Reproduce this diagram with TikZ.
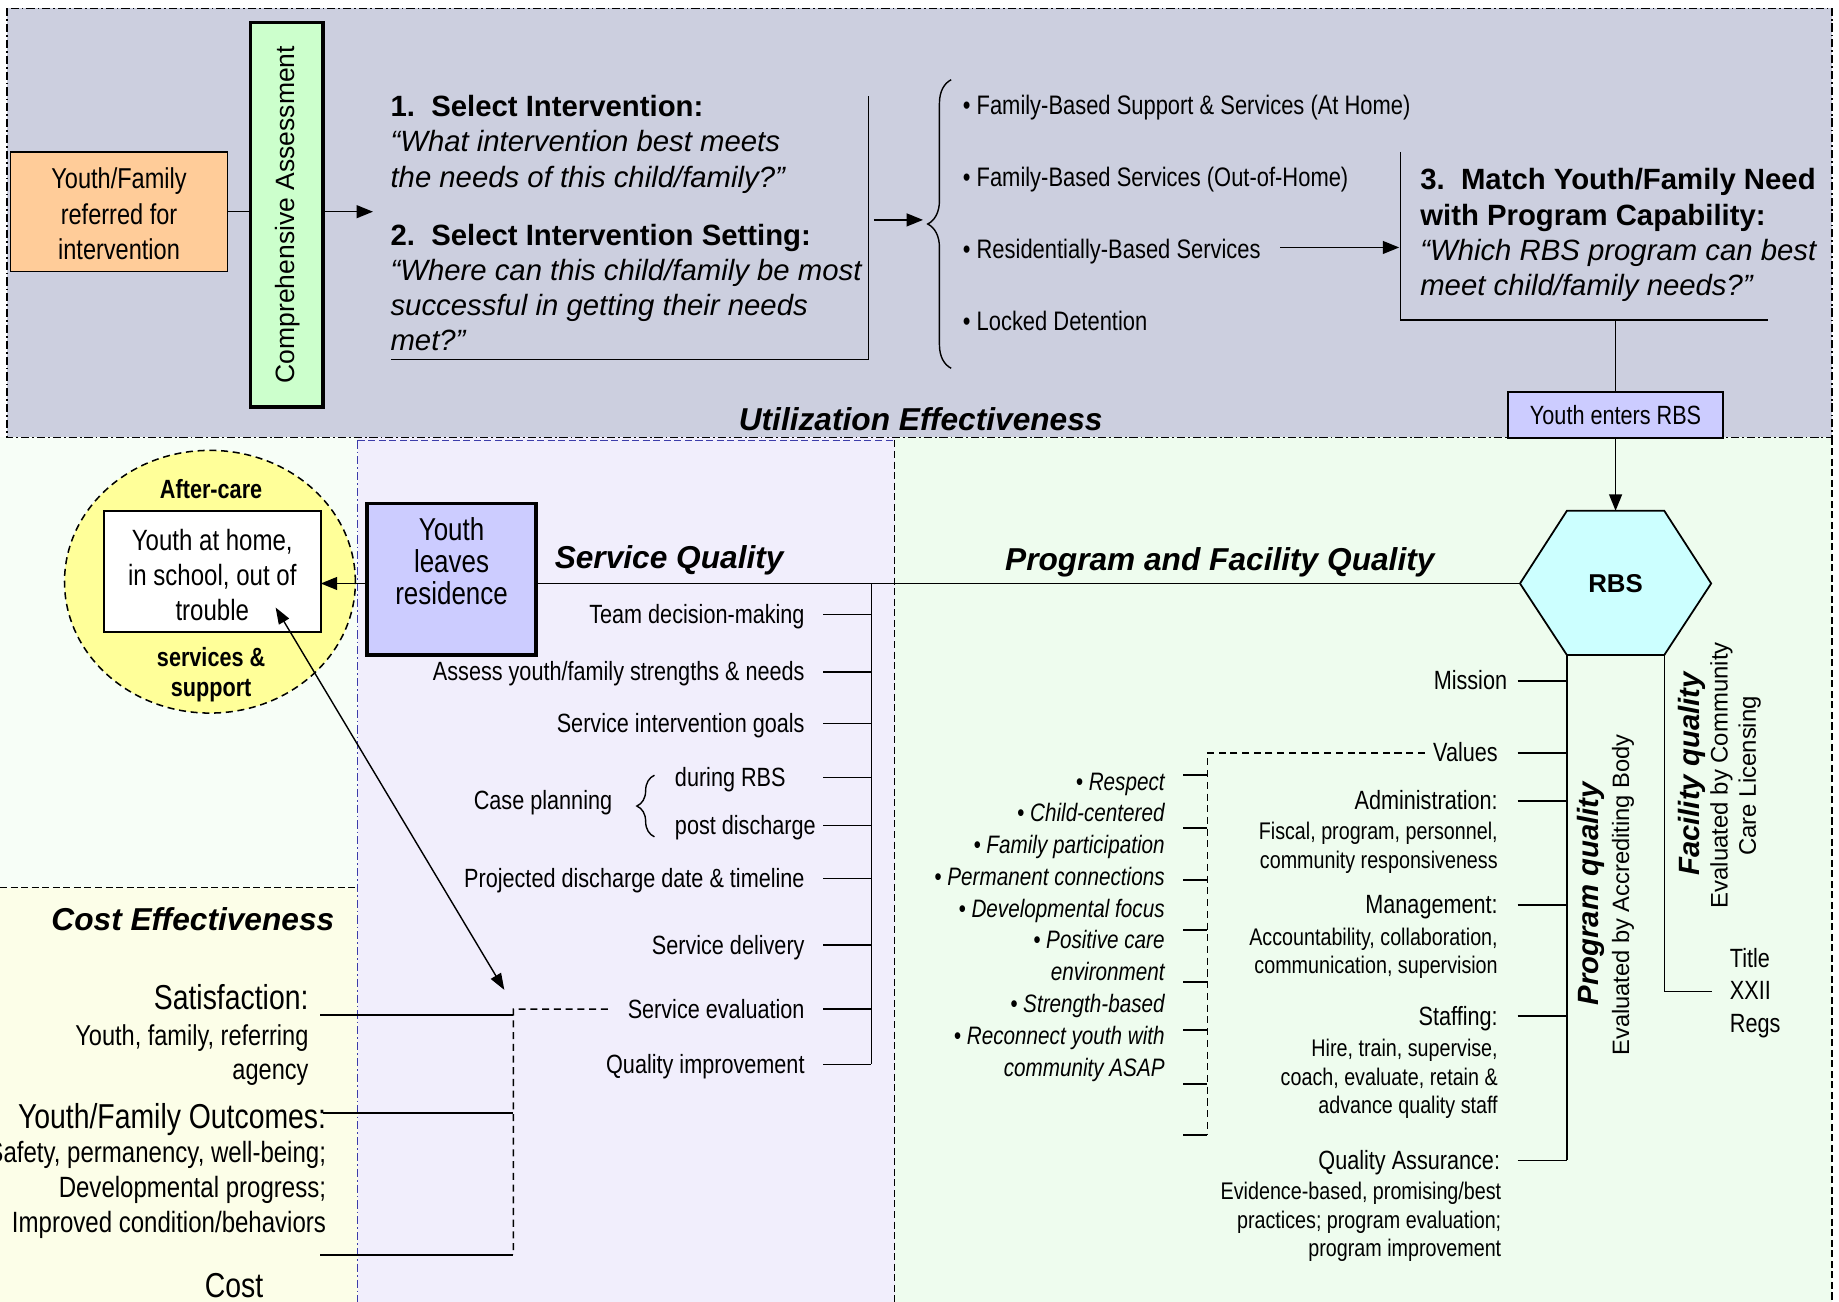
\documentclass[tikz,border=0pt]{standalone}
\usepackage{fontspec}
\setmainfont{Liberation Sans}
\newfontfamily\narrowsans{Liberation Sans}[FakeStretch=0.82]
\usetikzlibrary{arrows.meta,decorations.pathreplacing,shapes.geometric,calc}

\newcommand\nsz[2]{\narrowsans\fontsize{#1}{#2}\selectfont}
\newcommand\wsz[2]{\normalfont\fontsize{#1}{#2}\selectfont}

\definecolor{bandTop}{RGB}{204,207,223}
\definecolor{paneLeft}{RGB}{247,254,247}
\definecolor{paneCost}{RGB}{252,254,232}
\definecolor{paneService}{RGB}{241,238,252}
\definecolor{paneProgram}{RGB}{238,252,238}
\definecolor{boxOrange}{RGB}{255,204,153}
\definecolor{boxGreen}{RGB}{204,255,204}
\definecolor{boxBlue}{RGB}{204,204,255}
\definecolor{boxCyan}{RGB}{204,255,255}
\definecolor{ovalYellow}{RGB}{255,255,153}
\definecolor{edgeBlue}{RGB}{60,60,170}

\begin{document}
\begin{tikzpicture}[x=1pt,y=-1pt,
  every node/.style={inner sep=0pt,outer sep=0pt},
  conn/.style={line width=1.3pt},
  arr/.style={line width=1.3pt,-{Triangle[length=14pt,width=11pt]}},
  twoarr/.style={line width=1.2pt,{Triangle[length=14pt,width=10pt]}-{Triangle[length=14pt,width=10pt]}},
  dashjoin/.style={line width=1.3pt,dash pattern=on 6pt off 4pt},
  box/.style={draw,line width=1.5pt},
  heavybox/.style={draw,line width=2.8pt},
  lbl/.style={font=\nsz{22.5}{27},text height=16.2pt,text depth=1.1pt},
  det/.style={font=\nsz{20.5}{24.2},align=right},
  question/.style={font=\wsz{25}{30},align=left},
  heading/.style={font=\wsz{27}{32}\bfseries\itshape},
  paneDD/.style={line width=1pt,dash pattern=on 7pt off 2.5pt on 1.5pt off 2.5pt},
  paneDash/.style={line width=1pt,dash pattern=on 6pt off 3pt},
]
\useasboundingbox (0,0) rectangle (1568,1110.1);
\clip (0,0) rectangle (1568,1110.1);

% ---------- panes ----------
\fill[paneLeft] (0,373) rectangle (305,757);
\fill[paneCost] (0,757) rectangle (305,1111);
\fill[paneService] (305,373) rectangle (763,1111);
\fill[paneProgram] (763,373) rectangle (1562,1111);
\fill[bandTop] (6,7) rectangle (1562,373);
\draw[paneDD] (6,7) rectangle (1562,373);
\draw[paneDash,edgeBlue] (305,375.5) -- (763,375.5);
\draw[paneDD,edgeBlue] (305,375.5) -- (305,1111);
\draw[paneDash] (763,375.5) -- (763,1111);
\draw[paneDash] (1562,373) -- (1562,1111);
\draw[paneDash] (0,757) -- (305,757);

% ---------- referral and assessment ----------
% (multi-line nodes are placed by the baseline of their last line)
\node[box,fill=boxOrange,minimum width=185pt,minimum height=102pt] (referred) at (101.5,180.5) {};
\node[font=\nsz{24.5}{30},align=center,anchor=base] (referredtxt) at (101.5,221) {Youth/Family\\referred for\\intervention};
\node[heavybox,fill=boxGreen,minimum width=62pt,minimum height=328pt] (assess) at (244.5,183) {};
\node[rotate=90,anchor=base,font=\wsz{22.6}{27}] (assesstxt) at (250.8,183) {Comprehensive Assessment};
\draw[conn] (referred.east) -- (referred.east -| assess.west);
\coordinate (selIn) at (318,180.5);
\draw[arr] (assess.east |- referred.east) -- (selIn);

% ---------- steps 1 and 2 ----------
\node[question,anchor=base west] (step1) at (333,159.5)
  {\textbf{1.\ \ Select Intervention:}\\\textit{“What intervention best meets}\\\textit{the needs of this child/family?”}};
\node[question,anchor=base west] (step2) at (333,299)
  {\textbf{2.\ \ Select Intervention Setting:}\\\textit{“Where can this child/family be most}\\\textit{successful in getting their needs}\\\textit{met?”}};
\draw[conn] (740.5,82) -- (740.5,306.5) -- (333,306.5);
\coordinate (stepsOut) at (745,187.5);
\coordinate (braceTip) at (787,187.5);
\draw[arr] (stepsOut) -- (braceTip);
\draw[line width=1.2pt,decorate,decoration={brace,amplitude=20pt}] (811,314) -- (811,68);

% ---------- settings ----------
\node[font=\nsz{22.8}{27},anchor=base west] (homeSvc) at (821,98) {• Family-Based Support \& Services (At Home)};
\node[font=\nsz{22.8}{27},anchor=base west] (outSvc) at (821,159) {• Family-Based Services (Out-of-Home)};
\node[font=\nsz{22.8}{27},anchor=base west] (resSvc) at (821,220) {• Residentially-Based Services};
\node[font=\nsz{22.8}{27},anchor=base west] (locked) at (821,281.5) {• Locked Detention};
\coordinate (resOut) at (1091.5,211);
\coordinate (matchIn) at (1193,211);
\draw[arr] (resOut) -- (matchIn);

% ---------- step 3 ----------
\draw[conn] (1194,129.5) -- (1194,273) -- (1507.5,273);
\node[question,anchor=base west] (step3) at (1211,252)
  {\textbf{3.\ \ Match Youth/Family Need}\\\textbf{with Program Capability:}\\\textit{“Which RBS program can best}\\\textit{meet child/family needs?”}};
\coordinate (matchBar) at (1377.5,273);
\node[box,fill=boxBlue,minimum width=183pt,minimum height=39.5pt,font=\nsz{22.5}{27}] (enters) at (1377.5,354) {Youth enters RBS};
\draw[conn] (matchBar) -- (enters.north);

\node[heading,anchor=base] (utilization) at (785,367) {Utilization Effectiveness};

% ---------- RBS hexagon ----------
\coordinate (hexTL) at (1336,435.5);
\coordinate (hexTR) at (1419,435.5);
\coordinate (hexR) at (1459,497.5);
\coordinate (hexBR) at (1419,558.5);
\coordinate (hexBL) at (1336,558.5);
\coordinate (hexL) at (1296,497.5);
\coordinate (hexTop) at (1377.5,435.5);
\filldraw[fill=boxCyan,line width=1.5pt] (hexTL) -- (hexTR) -- (hexR) -- (hexBR) -- (hexBL) -- (hexL) -- cycle;
\node[font=\wsz{22}{26}\bfseries] (rbs) at (1377.5,498) {RBS};
\draw[arr] (enters.south) -- (hexTop);

% ---------- leaving residence ----------
\node[heavybox,fill=boxBlue,minimum width=144pt,minimum height=129.5pt] (leaves) at (385,493.75) {};
\node[font=\nsz{27}{27},align=center,anchor=base] (leavestxt) at (385,515) {Youth\\leaves\\residence};
\draw[conn] (hexL) -- (hexL -| leaves.east);

\node[heading,anchor=base west] (pfq) at (857,486) {Program and Facility Quality};
\node[heading,anchor=base west] (sq) at (473,485) {Service Quality};

% ---------- after-care ----------
\node[ellipse,draw,fill=ovalYellow,line width=1.3pt,dash pattern=on 6pt off 4pt,minimum width=248pt,minimum height=224pt] (aftercare) at (179,496) {};
\node[box,fill=white,minimum width=185pt,minimum height=103pt] (home) at (181,487.5) {};
\node[font=\nsz{25}{30},align=center,anchor=base] (hometxt) at (181,529) {Youth at home,\\in school, out of\\trouble};
\node[font=\nsz{22.5}{26}\bfseries,anchor=base] (aftertxt) at (180,425) {After-care};
\node[font=\nsz{22.5}{25.5}\bfseries,align=center,anchor=base] (supporttxt) at (180,594.1) {services \&\\support};
\draw[arr] (leaves.west |- hexL) -- (home.east |- hexL);

% ---------- service quality list ----------
\coordinate (svcTop) at (743,497.5);
\coordinate (svcTick) at (702,0);
\node[lbl,anchor=base east] (team) at (686,531.5) {Team decision-making};
\node[lbl,anchor=base east] (assessSN) at (686,580.5) {Assess youth/family strengths \& needs};
\node[lbl,anchor=base east] (goals) at (686,624.5) {Service intervention goals};
\node[lbl,anchor=base west] (during) at (575.5,670.5) {during RBS};
\node[lbl,anchor=base west] (post) at (575.5,711.5) {post discharge};
\node[lbl,anchor=base west] (caseplan) at (404,690.6) {Case planning};
\node[lbl,anchor=base east] (projected) at (686,756.5) {Projected discharge date \& timeline};
\node[lbl,anchor=base east] (delivery) at (686,813.5) {Service delivery};
\node[lbl,anchor=base east] (evaluation) at (686,868) {Service evaluation};
\node[lbl,anchor=base east] (improve) at (686,915) {Quality improvement};
\draw[line width=1.2pt,decorate,decoration={brace,amplitude=15pt}] (558,713.5) -- (558,661);
\draw[conn] (svcTop) -- (improve.east -| svcTop);
\foreach \item in {team,assessSN,goals,during,post,projected,delivery,evaluation,improve}
  \draw[conn] (\item.east -| svcTick) -- (\item.east -| svcTop);

% ---------- cost effectiveness ----------
\coordinate (costJoinTop) at (437.7,860.5);
\coordinate (costJoinBot) at (437.7,1070);
\coordinate (satLine) at (273,865.5);
\coordinate (outLine) at (275,949);
\coordinate (costLine) at (273,1070);
\draw[dashjoin] ([xshift=-17pt]evaluation.west) -- (costJoinTop) -- (costJoinBot);
\draw[conn] (satLine) -- (satLine -| costJoinTop);
\draw[conn] (outLine) -- (outLine -| costJoinTop);
\draw[conn] (costLine) -- (costJoinBot);
\coordinate (homeTip) at (235,518);
\coordinate (evalTip) at (430,844);
\draw[twoarr] (homeTip) -- (evalTip);

\node[heading,anchor=base east] (costeff) at (285,793) {Cost Effectiveness};
\node[font=\nsz{29.5}{32},anchor=base east] (satis) at (263,861) {Satisfaction:};
\node[font=\nsz{24.5}{29.5},align=right,anchor=base east] (satisdet) at (263,920.5) {Youth, family, referring\\agency};
\node[font=\nsz{29.5}{32},anchor=base east] (outcomes) at (278,962) {Youth/Family Outcomes:};
\node[font=\nsz{25}{30},align=right,anchor=base east] (outcomesdet) at (278,1051) {Safety, permanency, well-being;\\Developmental progress;\\Improved condition/behaviors};
\node[font=\nsz{29.5}{32},anchor=base] (cost) at (199.5,1106) {Cost};

% ---------- program quality ----------
\coordinate (progTick) at (1294,0);
\node[lbl,anchor=base east] (mission) at (1285,588.3) {Mission};
\node[lbl,anchor=base east] (values) at (1277,649.6) {Values};
\node[lbl,anchor=base east] (admin) at (1277,690.6) {Administration:};
\node[det,anchor=base east] (admindet) at (1277,740.2) {Fiscal, program, personnel,\\community responsiveness};
\node[lbl,anchor=base east] (mgmt) at (1277,779) {Management:};
\node[det,anchor=base east] (mgmtdet) at (1277,830) {Accountability, collaboration,\\communication, supervision};
\node[lbl,anchor=base east] (staff) at (1277,874) {Staffing:};
\node[det,anchor=base east] (staffdet) at (1277,949.4) {Hire, train, supervise,\\coach, evaluate, retain \&\\advance quality staff};
\node[lbl,anchor=base east] (qa) at (1279,997) {Quality Assurance:};
\node[det,anchor=base east] (qadet) at (1280,1071.4) {Evidence-based, promising/best\\practices; program evaluation;\\program improvement};
\draw[conn] (hexBL) -- (qa.east -| hexBL);
\foreach \item in {mission,values,admin,mgmt,staff,qa}
  \draw[conn] (\item.east -| progTick) -- (\item.east -| hexBL);

% values detail
\coordinate (valJoin) at (1029.5,641);
\coordinate (valEnd) at (1029.5,968);
\draw[dashjoin] ([xshift=-7pt]values.west) -- (values.west -| valJoin) -- (valEnd);
\foreach \ty in {661,706,750,793,837,878,924,968}
  \draw[line width=1.6pt] (1009,\ty) -- (1029.5,\ty);
\node[font=\nsz{21.5}{27.1}\itshape,align=right,anchor=base east] (valitems) at (993,917.5)
  {• Respect\\• Child-centered\\• Family participation\\• Permanent connections\\• Developmental focus\\• Positive care\\environment\\• Strength-based\\• Reconnect youth with\\community ASAP};

% ---------- facility quality ----------
\coordinate (titleEnd) at (1460,845.5);
\draw[conn] (hexBR) -- (hexBR |- titleEnd) -- (titleEnd);
\node[font=\nsz{22.5}{27.5},align=left,anchor=base west] (titlexxii) at (1475,880) {Title\\XXII\\Regs};

\node[rotate=90,anchor=base,font=\wsz{25}{30}\bfseries\itshape] (progq) at (1363,762) {Program quality};
\node[rotate=90,anchor=base,font=\wsz{20.2}{24}] (progqby) at (1389,763) {Evaluated by Accrediting Body};
\node[rotate=90,anchor=base,font=\wsz{25}{30}\bfseries\itshape] (facq) at (1449,660) {Facility quality};
\node[rotate=90,anchor=base,font=\wsz{20.4}{24}] (facqby) at (1473,661) {Evaluated by Community};
\node[rotate=90,anchor=base,font=\wsz{20.4}{24}] (facqlic) at (1497,661.5) {Care Licensing};
\end{tikzpicture}
\end{document}
